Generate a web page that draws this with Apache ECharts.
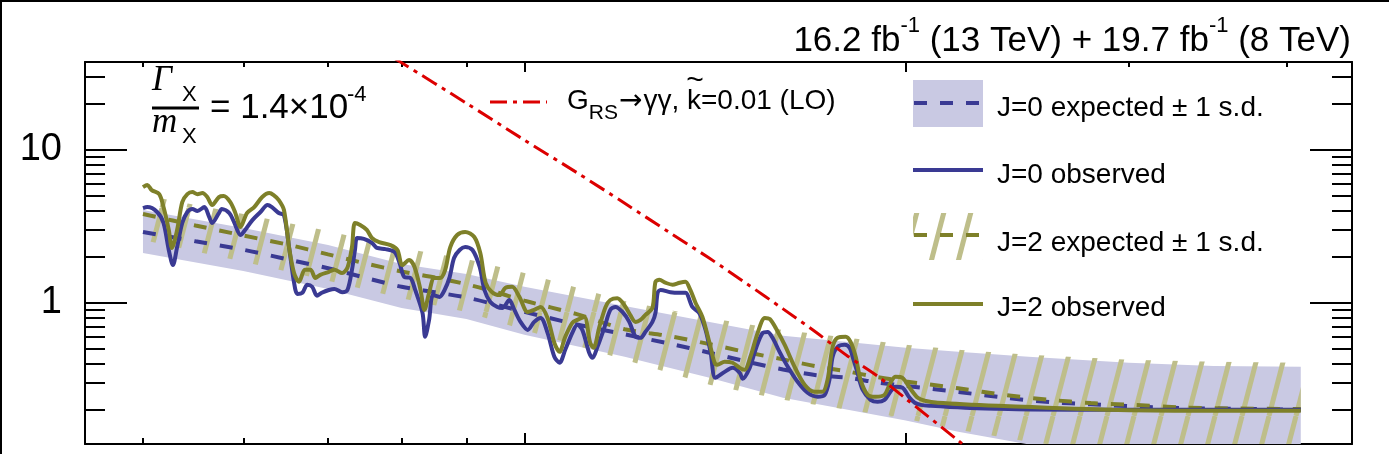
<!DOCTYPE html>
<html><head><meta charset="utf-8">
<script src="https://cdn.jsdelivr.net/npm/echarts@6.0.0/dist/echarts.min.js"></script>
<style>html,body{margin:0;padding:0;background:#fff}#c{width:1389px;height:454px}</style>
</head><body><div id="c"></div>
<script>
// ---------------- data ----------------
const X_RANGE = [450, 4500];
const Y_RANGE = [0.1187, 37.6];
const xMajorTicks = [1000, 2000];
const xMinorTicks = [500, 600, 700, 800, 900, 3000, 4000];
const yMajorTicks = [1, 10];
const yTickLabels = ['1', '10'];
const yMinorTicks = [0.2, 0.3, 0.4, 0.5, 0.6, 0.7, 0.8, 0.9, 2, 3, 4, 5, 6, 7, 8, 9, 20, 30];

const bandMass = [500, 600, 700, 800, 900, 1000, 1200, 1400, 1600, 1800, 2000, 2200, 2500, 3000, 3500, 4100];
const j0Lo = [2.11, 1.61, 1.23, 0.923, 0.782, 0.615, 0.442, 0.322, 0.238, 0.199, 0.169, 0.143, 0.118, 0.100, 0.0935, 0.091];
const j0Hi = [4.04, 3.08, 2.38, 1.79, 1.54, 1.27, 0.951, 0.748, 0.608, 0.553, 0.506, 0.476, 0.442, 0.404, 0.384, 0.380];
const j2Lo = [2.57, 1.85, 1.39, 1.07, 0.869, 0.663, 0.422, 0.290, 0.231, 0.199, 0.174, 0.147, 0.123, 0.101, 0.094, 0.092];
const j2Hi = [5.06, 3.80, 2.94, 2.28, 1.93, 1.56, 1.026, 0.794, 0.663, 0.588, 0.529, 0.491, 0.455, 0.422, 0.410, 0.404];

const expMass = [500, 550, 600, 650, 700, 750, 800, 850, 900, 950, 1000, 1100, 1200, 1300, 1400, 1500, 1600, 1700, 1800, 1900, 2000, 2200, 2400, 2600, 2800, 3000, 3300, 3600, 4100];
const expJ0 = [2.90, 2.52, 2.22, 1.92, 1.68, 1.45, 1.27, 1.17, 1.08, 0.97, 0.87, 0.72, 0.62, 0.54, 0.47, 0.41, 0.365, 0.335, 0.322, 0.300, 0.285, 0.260, 0.238, 0.223, 0.216, 0.210, 0.204, 0.202, 0.199];
const expJ2 = [3.80, 3.20, 2.75, 2.40, 2.07, 1.80, 1.60, 1.46, 1.32, 1.17, 1.03, 0.84, 0.67, 0.605, 0.535, 0.472, 0.425, 0.383, 0.354, 0.325, 0.305, 0.275, 0.248, 0.231, 0.220, 0.215, 0.206, 0.203, 0.201];

const obsJ0 = [[500,4.16],[504,4.22],[513,3.92],[519,3.32],[524,2.21],[528,1.76],[532,2.31],[537,3.32],[542,3.92],[547,4.10],[552,3.98],[559,4.22],[564,3.63],[567,3.32],[574,3.86],[577,4.10],[585,3.86],[590,3.37],[597,2.77],[602,2.99],[610,3.47],[619,3.92],[627,4.35],[632,4.22],[640,3.86],[646,3.74],[652,2.31],[658,1.35],[662,1.14],[668,1.16],[674,1.31],[680,1.27],[686,1.11],[692,1.16],[701,1.21],[708,1.23],[718,1.17],[725,1.21],[731,1.64],[735,2.21],[738,2.65],[747,2.61],[758,2.46],[765,2.28],[777,2.24],[790,2.14],[797,1.82],[804,1.47],[813,1.45],[820,1.21],[831,0.856],[835,0.597],[841,0.771],[847,1.12],[857,1.09],[865,1.21],[873,1.47],[880,1.96],[889,2.21],[898,2.31],[910,2.21],[922,1.71],[930,1.21],[940,1.01],[952,0.937],[961,0.923],[973,1.04],[982,0.896],[993,0.748],[1006,0.663],[1018,0.748],[1030,0.794],[1043,0.634],[1056,0.442],[1066,0.404],[1077,0.491],[1091,0.634],[1101,0.715],[1111,0.663],[1125,0.469],[1132,0.435],[1142,0.513],[1157,0.694],[1169,0.896],[1180,0.937],[1195,0.869],[1210,0.748],[1224,0.597],[1235,0.588],[1246,0.643],[1262,0.748],[1269,0.856],[1274,1.16],[1281,1.21],[1304,1.17],[1326,1.16],[1340,1.16],[1357,0.937],[1374,0.856],[1390,0.663],[1403,0.469],[1415,0.322],[1439,0.352],[1460,0.374],[1479,0.347],[1487,0.317],[1506,0.374],[1522,0.491],[1542,0.634],[1556,0.643],[1570,0.588],[1590,0.476],[1614,0.380],[1643,0.303],[1673,0.257],[1704,0.242],[1726,0.249],[1741,0.313],[1751,0.442],[1767,0.513],[1790,0.529],[1806,0.506],[1816,0.442],[1832,0.347],[1849,0.269],[1876,0.231],[1900,0.224],[1924,0.231],[1945,0.261],[1963,0.281],[1988,0.277],[2014,0.238],[2033,0.221],[2055,0.214],[2093,0.211],[2227,0.205],[2364,0.202],[2511,0.200],[2887,0.199],[3401,0.199],[4100,0.199]];

const obsJ2 = [[500,5.70],[504,5.88],[508,5.45],[515,5.13],[519,4.22],[524,2.99],[527,2.28],[532,2.99],[537,4.55],[542,5.13],[547,5.29],[552,5.13],[557,5.21],[562,4.91],[567,4.35],[574,4.91],[579,4.98],[586,4.55],[591,3.92],[597,3.13],[604,3.86],[612,4.22],[621,4.91],[629,5.21],[634,5.06],[640,4.69],[646,4.04],[652,2.31],[658,1.56],[664,1.37],[671,1.64],[678,1.64],[684,1.45],[690,1.52],[701,1.59],[708,1.64],[718,1.56],[725,1.69],[731,2.31],[735,3.32],[742,3.22],[751,2.99],[758,2.65],[768,2.49],[784,2.38],[794,2.21],[801,1.76],[811,1.90],[819,1.71],[828,1.21],[834,0.896],[841,1.16],[849,1.45],[858,1.45],[866,1.64],[874,2.31],[885,2.77],[898,2.90],[913,2.69],[923,2.11],[932,1.35],[943,1.17],[956,1.12],[966,1.25],[978,1.27],[991,1.09],[1006,0.869],[1018,0.896],[1030,0.937],[1043,0.794],[1056,0.545],[1066,0.476],[1077,0.597],[1091,0.737],[1101,0.771],[1115,0.806],[1127,0.545],[1134,0.506],[1146,0.694],[1159,0.937],[1169,1.04],[1184,1.07],[1199,0.966],[1212,0.831],[1224,0.748],[1235,0.771],[1246,0.831],[1262,0.923],[1269,1.37],[1278,1.41],[1292,1.35],[1309,1.31],[1326,1.35],[1340,1.37],[1352,1.21],[1365,0.995],[1382,0.806],[1400,0.545],[1413,0.404],[1420,0.392],[1439,0.410],[1460,0.404],[1479,0.374],[1492,0.363],[1508,0.442],[1528,0.634],[1548,0.794],[1562,0.782],[1579,0.683],[1605,0.529],[1634,0.380],[1664,0.290],[1694,0.261],[1719,0.261],[1735,0.313],[1751,0.513],[1767,0.588],[1793,0.597],[1809,0.553],[1826,0.442],[1842,0.313],[1866,0.249],[1893,0.242],[1924,0.249],[1945,0.299],[1963,0.327],[1988,0.322],[2014,0.277],[2044,0.238],[2070,0.228],[2120,0.221],[2364,0.211],[2887,0.199],[3401,0.196],[4100,0.196]];

const theoryRS = [[750,51.6],[800,37.2],[900,20.2],[1000,11.6],[1100,7.1],[1200,4.47],[1300,2.90],[1400,1.95],[1500,1.32],[1600,0.91],[1700,0.637],[1800,0.446],[1900,0.33],[2000,0.235],[2200,0.125],[2400,0.069]];

// ---------------- style ----------------
const C = { blue: '#3a3a93', olive: '#7e8029', band: '#c9c9e3', hatch: '#bebe8a', red: '#dc0000' };
const SANS = '"Liberation Sans", Arial, sans-serif';
const SERIF = '"Liberation Serif", "Times New Roman", serif';
const DEJAVU = '"DejaVu Sans", sans-serif';

function hatchCanvas() {
  const W = 27, H = 104;
  const c = document.createElement('canvas');
  c.width = W; c.height = H;
  const g = c.getContext('2d');
  g.strokeStyle = C.hatch; g.lineWidth = 5;
  for (const dx of [-W, 0, W]) { g.beginPath(); g.moveTo(dx, H); g.lineTo(dx + W, 0); g.stroke(); }
  return c;
}
const hatchPattern = { image: hatchCanvas(), repeat: 'repeat' };

const measureCtx = document.createElement('canvas').getContext('2d');
function textWidth(str, font) { measureCtx.font = font; return measureCtx.measureText(str).width; }

const pairs = (xs, ys) => xs.map((x, i) => [x, ys[i]]);

const lx = Math.log10;
function xOverlay(pos, ticks, len, showLine) {
  return { type: 'value', position: pos, min: lx(X_RANGE[0]), max: lx(X_RANGE[1]), silent: true,
    axisLine: { show: showLine, onZero: false, lineStyle: { color: '#000', width: 2 } },
    axisTick: { show: true, inside: true, length: len, customValues: ticks.map(lx), lineStyle: { color: '#000', width: 2 } },
    axisLabel: { show: false }, splitLine: { show: false } };
}
function yOverlay(pos, ticks, len, showLine, labels) {
  const ax = { type: 'value', position: pos, min: lx(Y_RANGE[0]), max: lx(Y_RANGE[1]), silent: true,
    axisLine: { show: showLine, onZero: false, lineStyle: { color: '#000', width: 2 } },
    axisTick: { show: true, inside: true, length: len, customValues: ticks.map(lx), lineStyle: { color: '#000', width: 2 } },
    axisLabel: { show: false }, splitLine: { show: false } };
  if (labels) {
    ax.axisLabel = { show: true, customValues: yMajorTicks.map(lx), color: '#000', fontSize: 38, fontFamily: SANS,
      margin: 23, padding: [9, 0, 0, 0],
      formatter: v => yTickLabels[yMajorTicks.findIndex(t => Math.abs(lx(t) - v) < 1e-6)] || '' };
  }
  return ax;
}

// band polygon drawn through the library's coordinate mapping
function bandSeries(name, lo, hi, fill) {
  return {
    type: 'custom', name: name, silent: true, xAxisIndex: 0, yAxisIndex: 0,
    data: bandMass.map((m, i) => [m, lo[i], hi[i]]),
    encode: { x: 0, y: [1, 2] },
    renderItem: function (params, api) {
      if (params.dataIndex !== 0) return null;
      const up = bandMass.map((m, i) => api.coord([m, hi[i]]));
      const dn = bandMass.map((m, i) => api.coord([m, lo[i]])).reverse();
      const cs = params.coordSys;
      return {
        type: 'polygon', shape: { points: up.concat(dn) }, style: { fill: fill },
        clipPath: { type: 'rect', shape: { x: cs.x, y: cs.y, width: cs.width, height: cs.height } }
      };
    }
  };
}

const lineBase = { type: 'line', showSymbol: false, symbol: 'none', silent: true, xAxisIndex: 0, yAxisIndex: 0 };

function T(x, y, text, font, align) {
  return { type: 'text', z: 100, x: x, y: y, style: { text: text, font: font, fill: '#000', align: align || 'left', verticalAlign: 'middle' } };
}

// theory legend label, composed piece by piece
const F28 = '28px ' + SANS, F21 = '21px ' + SANS, FARR = '28px ' + DEJAVU;
const gx0 = 567, gy = 101;
const gx1 = gx0 + textWidth('G', F28);
const gx2 = gx1 + textWidth('RS', F21) + 1;
const gx3 = gx2 + textWidth('→', FARR) + 1;
const gx4 = gx3 + textWidth('γγ, ', F28);
const gxk = gx4 + textWidth('k', F28) / 2;
const theoryLabel = [
  T(gx0, gy, 'G', F28), T(gx1, gy + 12, 'RS', F21), T(gx2, gy + 1, '→', FARR),
  T(gx3, gy, 'γγ, k=0.01 (LO)', F28), T(gxk + 1, gy - 20, '~', '30px ' + SANS, 'center')
];

const option = {
  animation: false,
  backgroundColor: '#fff',
  textStyle: { fontFamily: SANS },
  grid: { left: 85, right: 37, top: 62, bottom: 10, containLabel: false, outerBoundsMode: 'none' },
  xAxis: [
    { type: 'log', logBase: 10, min: X_RANGE[0], max: X_RANGE[1], show: false },
    xOverlay('bottom', xMajorTicks, 11, true),
    xOverlay('bottom', xMinorTicks, 6, false),
    xOverlay('top', xMajorTicks, 10, true),
    xOverlay('top', xMinorTicks, 5, false)
  ],
  yAxis: [
    { type: 'log', logBase: 10, min: Y_RANGE[0], max: Y_RANGE[1], show: false },
    yOverlay('left', yMajorTicks, 42, true, true),
    yOverlay('left', yMinorTicks, 20, false, false),
    yOverlay('right', yMajorTicks, 42, true, false),
    yOverlay('right', yMinorTicks, 20, false, false)
  ],
  series: [
    bandSeries('J=0 expected ± 1 s.d.', j0Lo, j0Hi, C.band),
    bandSeries('J=2 expected ± 1 s.d.', j2Lo, j2Hi, hatchPattern),
    Object.assign({}, lineBase, { name: 'J=0 expected', data: pairs(expMass, expJ0), smooth: 0.3, lineStyle: { color: C.blue, width: 4, type: [13, 13] } }),
    Object.assign({}, lineBase, { name: 'J=2 expected', data: pairs(expMass, expJ2), smooth: 0.3, lineStyle: { color: C.olive, width: 4, type: [13, 13] } }),
    Object.assign({}, lineBase, { name: 'J=0 observed', data: obsJ0, smooth: 0.3, lineStyle: { color: C.blue, width: 4 } }),
    Object.assign({}, lineBase, { name: 'J=2 observed', data: obsJ2, smooth: 0.3, lineStyle: { color: C.olive, width: 4 } }),
    Object.assign({}, lineBase, { name: 'G_RS', data: theoryRS, smooth: 0.3, lineStyle: { color: C.red, width: 3, type: [17, 6, 4, 6] } })
  ],
  graphic: { elements: [
    { type: 'rect', z: 100, shape: { x: 0, y: 0, width: 1389, height: 2 }, style: { fill: '#000' } },
    { type: 'rect', z: 100, shape: { x: 0, y: 0, width: 2, height: 454 }, style: { fill: '#000' } },
    // luminosity label
    { type: 'text', z: 100, x: 1351, y: 41, style: {
      text: '{a|16.2 fb}{s|-1}{a| (13 TeV) + 19.7 fb}{s|-1}{a| (8 TeV)}',
      align: 'right', verticalAlign: 'middle',
      rich: { a: { fontSize: 35, fontFamily: SANS, fill: '#000', verticalAlign: 'middle' },
              s: { fontSize: 22, fontFamily: SANS, fill: '#000', verticalAlign: 'middle', padding: [0, 0, 30, 0] } } } },
    // width annotation
    T(152, 81, 'Γ', 'italic 35px ' + SERIF),
    T(182, 95, 'X', '22px ' + SANS),
    { type: 'line', z: 100, shape: { x1: 152, y1: 108, x2: 199, y2: 108 }, style: { stroke: '#000', lineWidth: 3 } },
    T(152, 123, 'm', 'italic 35px ' + SERIF),
    T(182, 137, 'X', '22px ' + SANS),
    T(210, 108, '= 1.4×10', '35px ' + SANS),
    T(347, 95, '-4', '22px ' + SANS),
    // legend: theory
    { type: 'line', z: 100, shape: { x1: 490, y1: 102, x2: 547, y2: 102 }, style: { stroke: C.red, lineWidth: 3, lineDash: [17, 6, 4, 6] } },
    ...theoryLabel,
    // legend: J=0 expected
    { type: 'rect', z: 100, shape: { x: 913, y: 80, width: 70, height: 47 }, style: { fill: C.band } },
    { type: 'line', z: 100, shape: { x1: 914, y1: 103, x2: 983, y2: 103 }, style: { stroke: C.blue, lineWidth: 4, lineDash: [13, 13] } },
    T(997, 108, 'J=0 expected ± 1 s.d.', F28),
    // legend: J=0 observed
    { type: 'line', z: 100, shape: { x1: 913, y1: 170, x2: 983, y2: 170 }, style: { stroke: C.blue, lineWidth: 4 } },
    T(997, 175, 'J=0 observed', F28),
    // legend: J=2 expected
    { type: 'rect', z: 100, shape: { x: 913, y: 213, width: 70, height: 47 }, style: { fill: hatchPattern } },
    { type: 'line', z: 100, shape: { x1: 914, y1: 235, x2: 983, y2: 235 }, style: { stroke: C.olive, lineWidth: 4, lineDash: [13, 13] } },
    T(997, 243, 'J=2 expected ± 1 s.d.', F28),
    // legend: J=2 observed
    { type: 'line', z: 100, shape: { x1: 913, y1: 304, x2: 983, y2: 304 }, style: { stroke: C.olive, lineWidth: 4 } },
    T(997, 308, 'J=2 observed', F28)
  ] }
};

const chart = echarts.init(document.getElementById('c'), null, { renderer: 'canvas' });
chart.setOption(option);
</script></body></html>
